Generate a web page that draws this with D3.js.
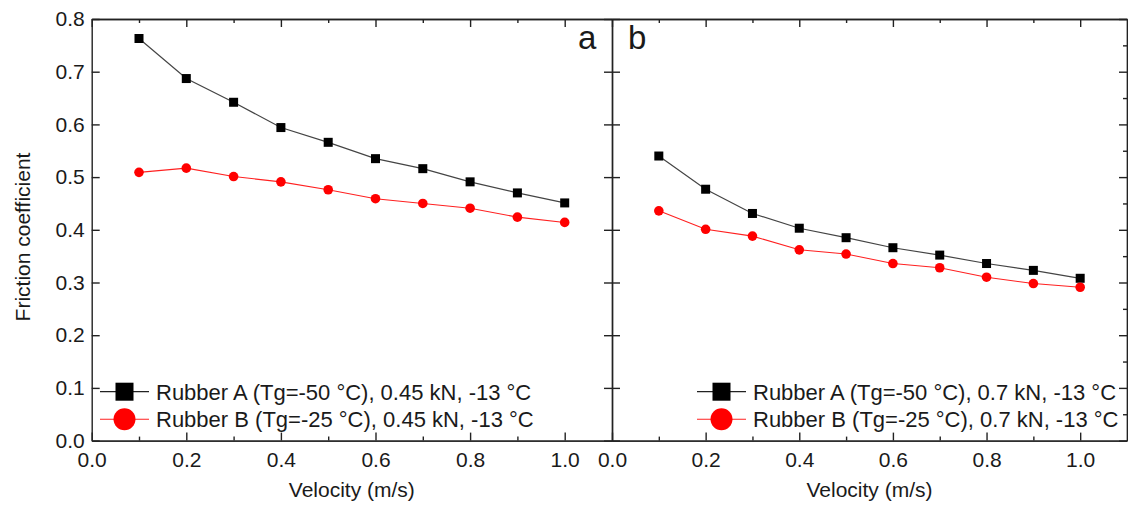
<!DOCTYPE html>
<html>
<head>
<meta charset="utf-8">
<script src="https://cdn.jsdelivr.net/npm/d3@7"></script>
<style>
  body { margin: 0; background: #fff; }
  text { font-family: Arial, "Liberation Sans", sans-serif; fill: #1a1a1a; }
  .axis path, .axis line { stroke: #222; stroke-width: 1.4; }
  .axis text { font-size: 21px; fill: #1a1a1a; }
</style>
</head>
<body>
<div id="chart"></div>
<script>
// velocities (m/s)
var velocity = [0.1, 0.2, 0.3, 0.4, 0.5, 0.6, 0.7, 0.8, 0.9, 1.0]

// panel a, 0.45 kN
var rubberA_045 = [0.763, 0.687, 0.642, 0.594, 0.566, 0.535, 0.516, 0.491, 0.470, 0.451]
var rubberB_045 = [0.509, 0.517, 0.501, 0.491, 0.476, 0.459, 0.450, 0.441, 0.424, 0.414]

// panel b, 0.7 kN
var rubberA_07 = [0.540, 0.477, 0.431, 0.403, 0.385, 0.366, 0.352, 0.336, 0.323, 0.308]
var rubberB_07 = [0.436, 0.401, 0.388, 0.362, 0.354, 0.336, 0.328, 0.310, 0.298, 0.291]

var xTicks = [0, 0.2, 0.4, 0.6, 0.8, 1.0]
var xMinor = [0.1, 0.3, 0.5, 0.7, 0.9]
var yTicks = [0, 0.1, 0.2, 0.3, 0.4, 0.5, 0.6, 0.7, 0.8]
var yMinor = [0.05, 0.15, 0.25, 0.35, 0.45, 0.55, 0.65, 0.75]

var legendA = ['Rubber A (Tg=-50 °C), 0.45 kN, -13 °C', 'Rubber B (Tg=-25 °C), 0.45 kN, -13 °C']
var legendB = ['Rubber A (Tg=-50 °C), 0.7 kN, -13 °C', 'Rubber B (Tg=-25 °C), 0.7 kN, -13 °C']

var W = 1128, H = 506
var plotTop = 19, plotBottom = 440.6

var svg = d3.select('#chart').append('svg').attr('width', W).attr('height', H)

var y = d3.scaleLinear().domain([0, 0.8]).range([plotBottom, plotTop])
var f1 = d3.format('.1f')

var panels = [
  {left: 91.7, right: 612, a: rubberA_045, b: rubberB_045, legend: legendA, tag: 'a', legX: 100, firstPanel: true},
  {left: 612, right: 1127, a: rubberA_07, b: rubberB_07, legend: legendB, tag: 'b', legX: 697, firstPanel: false}
]

panels.forEach(function(p){
  var x = d3.scaleLinear().domain([0, 1.1]).range([p.left, p.right])
  var g = svg.append('g')

  var line = d3.line().x(function(d, i){ return x(velocity[i]) }).y(function(d){ return y(d) })

  g.append('path').datum(p.a).attr('d', line).attr('fill', 'none').attr('stroke', '#444').attr('stroke-width', 1.2)
  g.append('path').datum(p.b).attr('d', line).attr('fill', 'none').attr('stroke', '#ff2020').attr('stroke-width', 1.1)

  g.selectAll('rect.pa').data(p.a).enter().append('rect')
    .attr('x', function(d, i){ return x(velocity[i]) - 4.5 })
    .attr('y', function(d){ return y(d) - 4.5 })
    .attr('width', 9).attr('height', 9).attr('fill', '#000')

  g.selectAll('circle.pb').data(p.b).enter().append('circle')
    .attr('cx', function(d, i){ return x(velocity[i]) })
    .attr('cy', function(d){ return y(d) })
    .attr('r', 4.8).attr('fill', '#ff0000')

  // bottom axis, major + minor
  g.append('g').attr('class', 'axis').attr('transform', 'translate(0,' + plotBottom + ')')
    .call(d3.axisBottom(x).tickValues(xTicks).tickFormat(f1).tickSize(-8).tickSizeOuter(0).tickPadding(11))
  g.append('g').attr('class', 'axis').attr('transform', 'translate(0,' + plotBottom + ')')
    .call(d3.axisBottom(x).tickValues(xMinor).tickFormat('').tickSize(-4).tickSizeOuter(0))

  // top axis
  g.append('g').attr('class', 'axis').attr('transform', 'translate(0,' + plotTop + ')')
    .call(d3.axisTop(x).tickValues(xTicks).tickFormat('').tickSize(-8).tickSizeOuter(0))
  g.append('g').attr('class', 'axis').attr('transform', 'translate(0,' + plotTop + ')')
    .call(d3.axisTop(x).tickValues(xMinor).tickFormat('').tickSize(-4).tickSizeOuter(0))

  // left axis
  var la = d3.axisLeft(y).tickValues(yTicks).tickSize(-8).tickSizeOuter(0).tickPadding(7)
  la.tickFormat(p.firstPanel ? f1 : '')
  g.append('g').attr('class', 'axis').attr('transform', 'translate(' + p.left + ',0)').call(la)

  // right axis
  g.append('g').attr('class', 'axis').attr('transform', 'translate(' + p.right + ',0)')
    .call(d3.axisRight(y).tickValues(yTicks).tickFormat('').tickSize(-8).tickSizeOuter(0))
  if (!p.firstPanel) {
    g.append('g').attr('class', 'axis').attr('transform', 'translate(' + p.right + ',0)')
      .call(d3.axisRight(y).tickValues(yMinor).tickFormat('').tickSize(-4).tickSizeOuter(0))
  }

  // x title
  g.append('text').attr('x', (p.left + p.right) / 2).attr('y', 497)
    .attr('text-anchor', 'middle').style('font-size', '21px').text('Velocity (m/s)')

  // panel tag
  g.append('text').attr('x', p.firstPanel ? p.right - 34 : p.left + 16).attr('y', 49)
    .style('font-size', '33px').text(p.tag)

  // legend
  var rows = [391.7, 419.3]
  var lx = p.legX
  g.append('line').attr('x1', lx).attr('x2', lx + 49).attr('y1', rows[0]).attr('y2', rows[0]).attr('stroke', '#222').attr('stroke-width', 1.2)
  g.append('rect').attr('x', lx + 24.5 - 9).attr('y', rows[0] - 9).attr('width', 18).attr('height', 18).attr('fill', '#000')
  g.append('line').attr('x1', lx).attr('x2', lx + 49).attr('y1', rows[1]).attr('y2', rows[1]).attr('stroke', '#ff2020').attr('stroke-width', 1.1)
  g.append('circle').attr('cx', lx + 24.5).attr('cy', rows[1]).attr('r', 11).attr('fill', '#ff0000')
  p.legend.forEach(function(t, i){
    g.append('text').attr('x', lx + 56).attr('y', rows[i]).attr('dy', '0.36em')
      .style('font-size', '22px').text(t)
  })
})

// y title
svg.append('text').attr('transform', 'translate(30,' + 237 + ') rotate(-90)')
  .attr('text-anchor', 'middle').style('font-size', '21px').text('Friction coefficient')
</script>
</body>
</html>
